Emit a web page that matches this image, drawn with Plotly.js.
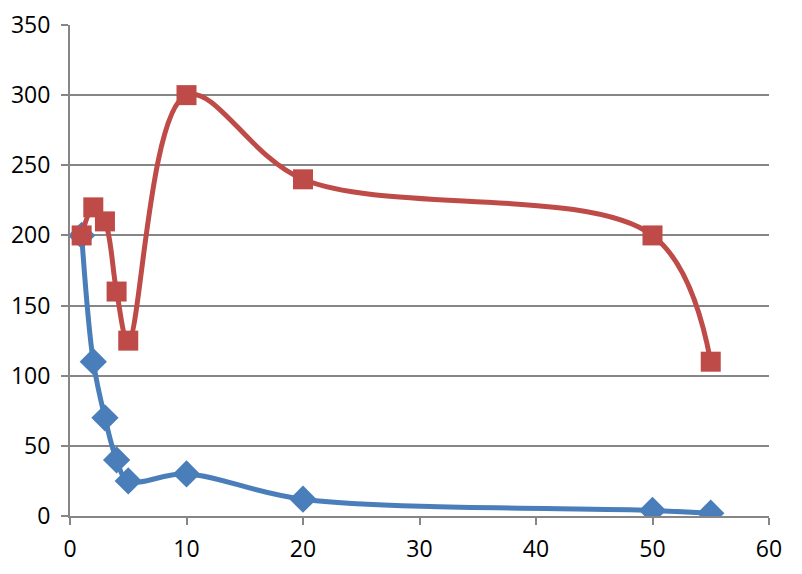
<!DOCTYPE html>
<html><head><meta charset="utf-8">
<script src="https://cdn.plot.ly/plotly-3.0.1.min.js"></script>
<style>html,body{margin:0;padding:0;background:#fff}#chart{width:802px;height:574px}</style>
</head><body><div id="chart"></div>
<script>
const xValues = [1, 2, 3, 4, 5, 10, 20, 50, 55];
const blueValues = [200, 110, 70, 40, 25, 30, 12, 4, 2];
const redValues = [200, 220, 210, 160, 125, 300, 240, 200, 110];
const xTicks = [0, 10, 20, 30, 40, 50, 60];
const yTicks = [0, 50, 100, 150, 200, 250, 300, 350];

const tickFont = {family: 'Open Sans, Lato, sans-serif', size: 23, color: '#000'};
const traces = [
  {x: xValues, y: blueValues, type: 'scatter', mode: 'lines+markers', name: 'Series1',
   line: {color: '#4a7ebb', width: 5, shape: 'spline', smoothing: 1},
   marker: {symbol: 'diamond', size: 21, color: '#4a7ebb'}},
  {x: xValues, y: redValues, type: 'scatter', mode: 'lines+markers', name: 'Series2',
   line: {color: '#be4b48', width: 5, shape: 'spline', smoothing: 1},
   marker: {symbol: 'square', size: 20, color: '#be4b48'}}
];
const layout = {
  width: 802, height: 574,
  margin: {l: 70, r: 33, t: 25, b: 58},
  showlegend: false,
  paper_bgcolor: '#fff', plot_bgcolor: '#fff',
  font: tickFont,
  xaxis: {range: [0, 60], tickvals: xTicks, ticktext: xTicks.map(String), showgrid: false,
    tickfont: tickFont,
    zeroline: false, showline: true, linecolor: '#868686', linewidth: 2,
    ticks: 'outside', ticklen: 7, tickcolor: '#868686', tickwidth: 2, ticklabelstandoff: 4},
  yaxis: {range: [0, 350], tickvals: yTicks, ticktext: yTicks.map(String), showgrid: true,
    tickfont: tickFont,
    gridcolor: '#868686', gridwidth: 1.5, zeroline: false, showline: true, linecolor: '#868686', linewidth: 2,
    ticks: 'outside', ticklen: 7, tickcolor: '#868686', tickwidth: 2, ticklabelstandoff: 6}
};
Plotly.newPlot('chart', traces, layout, {displayModeBar: false, responsive: false});
</script></body></html>
